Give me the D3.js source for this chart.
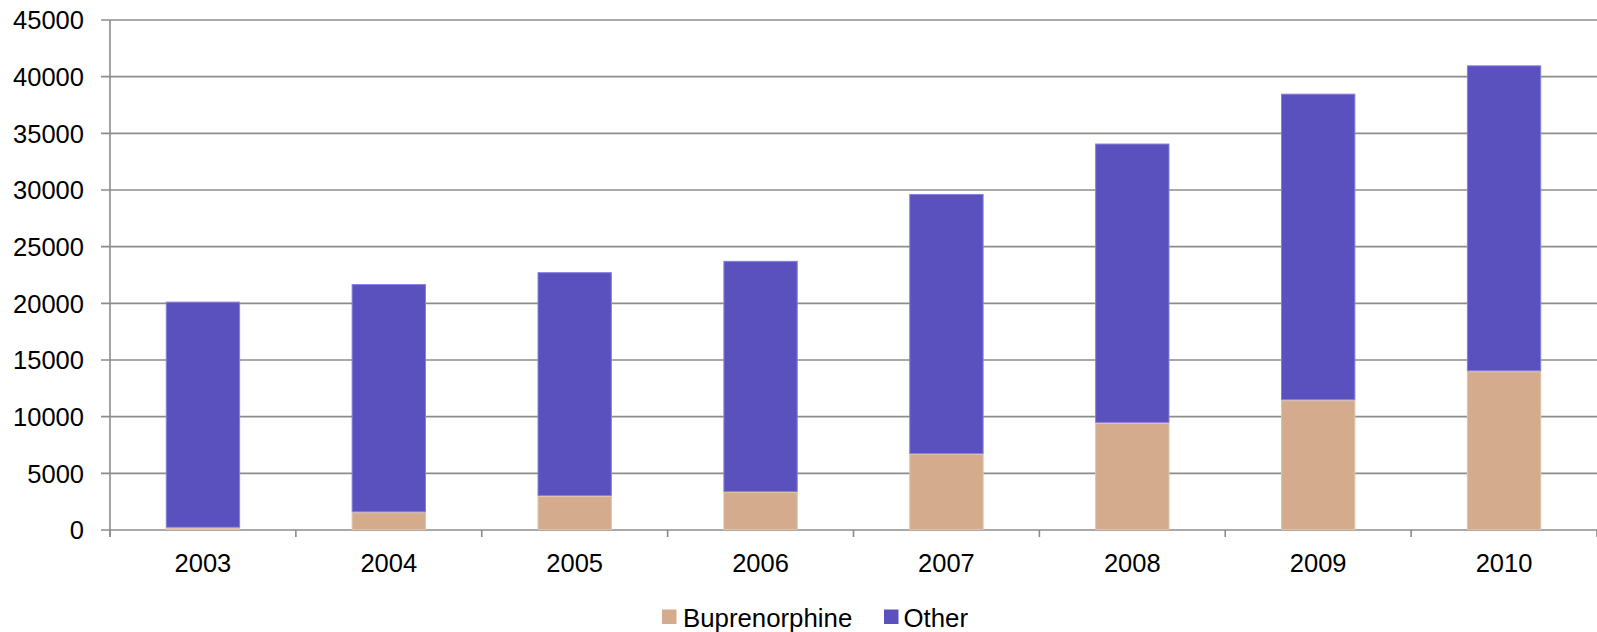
<!DOCTYPE html>
<html>
<head>
<meta charset="utf-8">
<script src="https://cdn.jsdelivr.net/npm/d3@7"></script>
<style>
  html, body { margin: 0; padding: 0; background: #fff; }
  svg { display: block; }
  text { font-family: "Liberation Sans", Arial, sans-serif; fill: #000; }
</style>
</head>
<body>
<svg id="chart" width="1597" height="632"></svg>
<script>
const years = ["2003", "2004", "2005", "2006", "2007", "2008", "2009", "2010"];
const buprenorphine = [200, 1560, 3000, 3350, 6700, 9450, 11450, 14000];
const totals = [20150, 21700, 22750, 23750, 29650, 34100, 38500, 41000];
const other = totals.map((t, i) => t - buprenorphine[i]);
const yTicks = [0, 5000, 10000, 15000, 20000, 25000, 30000, 35000, 40000, 45000];
const seriesNames = ["Buprenorphine", "Other"];
const colors = { "Buprenorphine": "#D4AB8C", "Other": "#5A50BE" };
const strokes = { "Buprenorphine": "#E2C2AA", "Other": "#8580DA" };

const svg = d3.select("#chart");
const mLeft = 110, mRight = 1597, mTop = 20, mBottom = 530;

const x = d3.scaleBand().domain(years).range([mLeft, mRight]).paddingInner(0.6).paddingOuter(0.3);
const y = d3.scaleLinear().domain([0, 45000]).range([mBottom, mTop]);

// gridlines
svg.append("g").selectAll("line").data(yTicks).join("line")
  .attr("x1", mLeft - 9).attr("x2", mRight)
  .attr("y1", d => y(d)).attr("y2", d => y(d))
  .attr("stroke", "#8c8c8c").attr("stroke-width", 1.6);

// y axis line
svg.append("line").attr("x1", mLeft).attr("x2", mLeft).attr("y1", mTop).attr("y2", mBottom + 7)
  .attr("stroke", "#8c8c8c").attr("stroke-width", 1.6);

// y tick labels
svg.append("g").selectAll("text").data(yTicks).join("text")
  .attr("x", 84).attr("y", d => y(d)).attr("dy", "0.36em")
  .attr("text-anchor", "end").attr("font-size", 25.5)
  .text(d => d);

// x ticks (category boundaries)
const step = x.step();
const boundaries = d3.range(years.length + 1).map(i => mLeft + i * step);
svg.append("g").selectAll("line").data(boundaries).join("line")
  .attr("x1", d => d).attr("x2", d => d).attr("y1", mBottom).attr("y2", mBottom + 7)
  .attr("stroke", "#8c8c8c").attr("stroke-width", 1.6);

// stacked bars
const table = years.map((yr, i) => ({ year: yr, Buprenorphine: buprenorphine[i], Other: other[i] }));
const stack = d3.stack().keys(seriesNames)(table);
const bw = x.bandwidth();
svg.append("g").selectAll("g").data(stack).join("g")
  .attr("fill", d => colors[d.key]).attr("stroke", d => strokes[d.key]).attr("stroke-width", 1)
  .selectAll("rect").data(d => d).join("rect")
  .attr("x", d => x(d.data.year) + 0.5)
  .attr("width", bw - 1)
  .attr("y", d => y(d[1]) + 0.5)
  .attr("height", d => Math.max(0, y(d[0]) - y(d[1]) - 1));

// x labels
svg.append("g").selectAll("text").data(years).join("text")
  .attr("x", d => x(d) + bw / 2).attr("y", 572)
  .attr("text-anchor", "middle").attr("font-size", 25.5)
  .text(d => d);

// legend
const legend = [
  { name: "Buprenorphine", sx: 662, tx: 683 },
  { name: "Other", sx: 884, tx: 903.5 }
];
const lg = svg.append("g");
lg.selectAll("rect").data(legend).join("rect")
  .attr("x", d => d.sx).attr("y", 609.5).attr("width", 14.5).attr("height", 14.5)
  .attr("fill", d => colors[d.name]);
lg.selectAll("text").data(legend).join("text")
  .attr("x", d => d.tx).attr("y", 618).attr("dy", "0.36em")
  .attr("font-size", 25.8)
  .text(d => d.name);
</script>
</body>
</html>
